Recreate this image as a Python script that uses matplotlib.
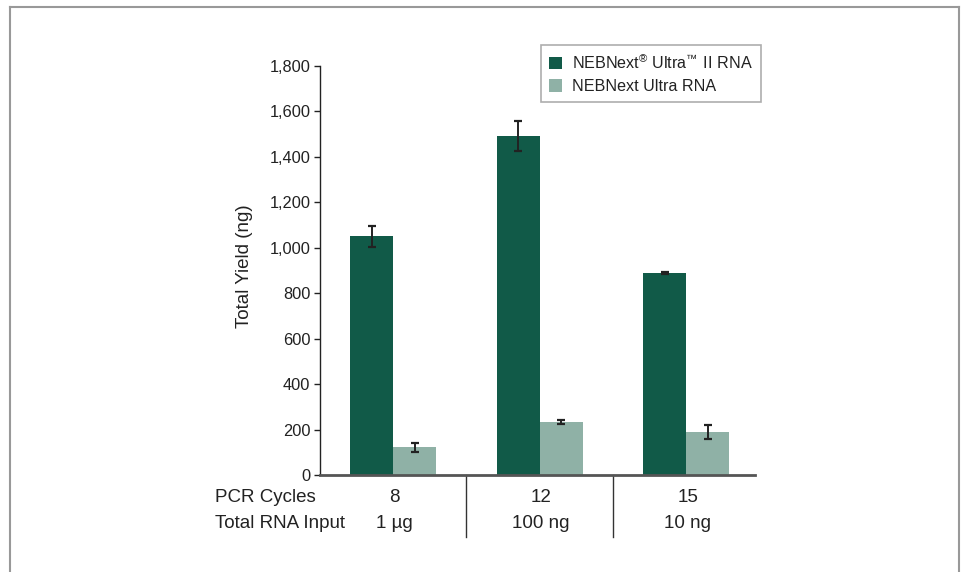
import matplotlib
matplotlib.use("Agg")
import matplotlib.pyplot as plt
from matplotlib import transforms
from matplotlib.lines import Line2D
from matplotlib.patches import Patch

plt.rcParams['font.family'] = ['Liberation Sans', 'DejaVu Sans']
plt.rcParams['mathtext.fontset'] = 'custom'
plt.rcParams['mathtext.rm'] = 'Liberation Sans'
plt.rcParams['mathtext.default'] = 'regular'

pcr_cycles = ["8", "12", "15"]
rna_input = ["1 µg", "100 ng", "10 ng"]
ultra2_vals = [1050, 1492, 889]
ultra2_err = [48, 66, 4]
ultra_vals = [123, 233, 190]
ultra_err = [20, 10, 30]
series_names = ["NEBNext$^{®}$ Ultra$^{™}$ I\u200aI RNA", "NEBNext Ultra RNA"]
yticks = [0, 200, 400, 600, 800, 1000, 1200, 1400, 1600, 1800]

dark = "#115A48"
light = "#8FB1A6"
txt = "#222222"

W, H = 963, 572
fig = plt.figure(figsize=(W / 100, H / 100), dpi=100)
ax = fig.add_axes([320 / W, 1 - 475 / H, (755 - 320) / W, (475 - 66) / H])

x = list(range(len(pcr_cycles)))
w = 0.294
ax.bar([i - w / 2 for i in x], ultra2_vals, width=w, color=dark, zorder=2)
ax.bar([i + w / 2 for i in x], ultra_vals, width=w, color=light, zorder=2)
ax.errorbar([i - w / 2 for i in x], ultra2_vals, yerr=ultra2_err, fmt='none',
            ecolor="#222222", elinewidth=1.4, capsize=3, capthick=1.6, zorder=3)
ax.errorbar([i + w / 2 for i in x], ultra_vals, yerr=ultra_err, fmt='none',
            ecolor="#222222", elinewidth=1.4, capsize=3, capthick=1.6, zorder=3)

ax.set_xlim(-0.5, 2.47)
ax.set_ylim(0, 1800)
ax.set_yticks(yticks)
ax.set_yticklabels([f"{v:,}" for v in yticks], fontsize=11.8, color=txt)
ax.tick_params(axis='y', length=4, width=1, color="#222222", pad=3)
ax.set_xticks([])
for s in ['top', 'right']:
    ax.spines[s].set_visible(False)
ax.spines['left'].set_color("#222222")
ax.spines['left'].set_linewidth(1)
ax.spines['bottom'].set_color("#555555")
ax.spines['bottom'].set_linewidth(2)

fig.text(244 / W, 1 - 266 / H, "Total Yield (ng)", rotation=90, ha='center',
         va='center', fontsize=13.5, color=txt)

# bottom table
bt = transforms.blended_transform_factory(ax.transData, fig.transFigure)
y1 = 1 - 498 / H
y2 = 1 - 524 / H
fs = 13.5
fig.text(215 / W, y1, "PCR Cycles", ha='left', va='center', fontsize=fs, color=txt)
fig.text(215 / W, y2, "Total RNA Input", ha='left', va='center', fontsize=fs, color=txt)
for i, (c, r) in enumerate(zip(pcr_cycles, rna_input)):
    ax.text(i + 0.01, y1, c, transform=bt, ha='center', va='center', fontsize=fs, color=txt)
    ax.text(i + 0.01, y2, r, transform=bt, ha='center', va='center', fontsize=fs, color=txt)
for sx in [0.5, 1.5]:
    ax.add_line(Line2D([sx, sx], [1 - 475 / H, 1 - 537 / H], transform=bt,
                       color="#333333", linewidth=1, clip_on=False))

# legend
handles = [Patch(facecolor=dark, edgecolor='none'), Patch(facecolor=light, edgecolor='none')]
leg = fig.legend(handles, series_names, loc='upper left',
                 bbox_to_anchor=(541 / W, 1 - 45 / H), fontsize=11.6,
                 frameon=True, fancybox=False, handlelength=0.8, handleheight=0.8,
                 handletextpad=0.6, borderpad=0.5, labelspacing=0.45,
                 borderaxespad=0)
leg.get_frame().set_edgecolor("#999999")
leg.get_frame().set_linewidth(1.2)
for t in leg.get_texts():
    t.set_color(txt)

# outer frame (open at bottom)
fx0, fx1, fy = 10 / W, 959 / W, 1 - 7 / H
for xs, ys in [([fx0, fx0], [0, fy]), ([fx0, fx1], [fy, fy]), ([fx1, fx1], [fy, 0])]:
    fig.add_artist(Line2D(xs, ys, transform=fig.transFigure, color="#999999", linewidth=1.5))

fig.savefig("out.png", dpi=100)
